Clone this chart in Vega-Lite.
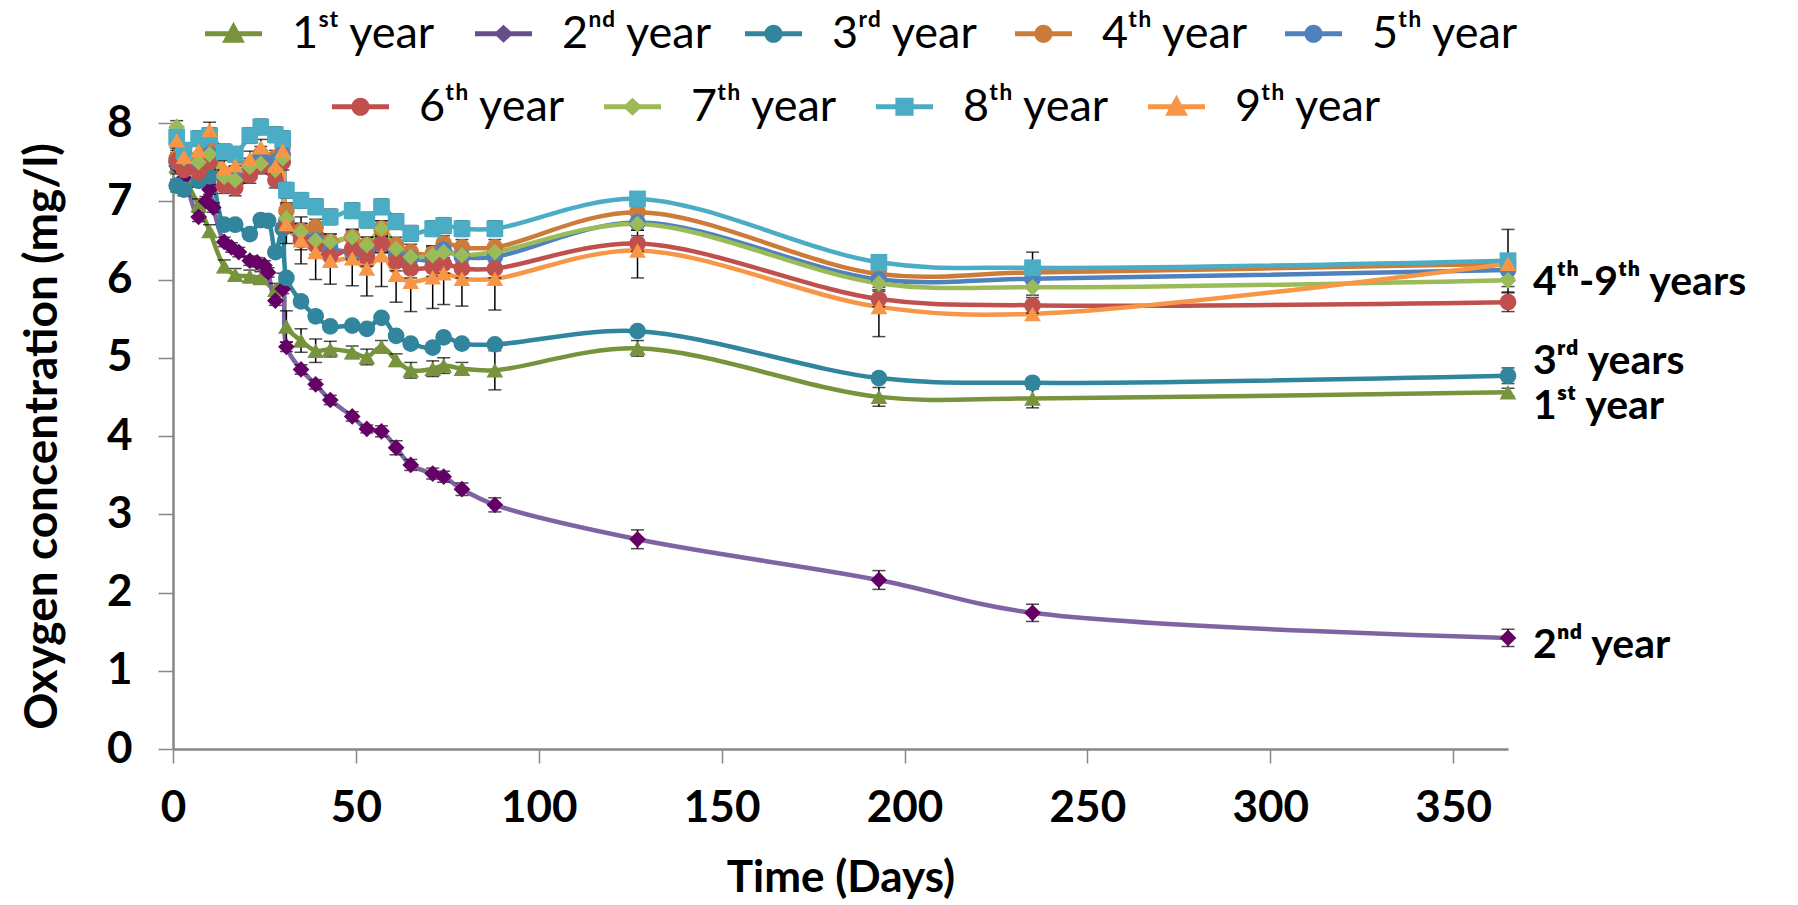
{
  "$schema": "https://vega.github.io/schema/vega-lite/v6.json",
  "width": 1335,
  "height": 626,
  "autosize": "none",
  "padding": {"left": 173, "top": 123, "right": 290, "bottom": 156},
  "background": "white",
  "config": {"view": {"stroke": null}, "font": "Lato, sans-serif"},
  "datasets": {
    "obs": [
      {"s":"1ˢᵗ year","d":1,"v":7.45,"e":0.1},{"s":"1ˢᵗ year","d":3,"v":7.3,"e":0.08},{"s":"1ˢᵗ year","d":7,"v":6.95,"e":0.08},{"s":"1ˢᵗ year","d":10,"v":6.62,"e":0.08},{"s":"1ˢᵗ year","d":14,"v":6.17,"e":0.08},{"s":"1ˢᵗ year","d":17,"v":6.06,"e":0.08},{"s":"1ˢᵗ year","d":21,"v":6.04,"e":0.08},{"s":"1ˢᵗ year","d":24,"v":6.02,"e":0.08},{"s":"1ˢᵗ year","d":28,"v":5.87,"e":0.08},{"s":"1ˢᵗ year","d":30,"v":5.98,"e":0.1},{"s":"1ˢᵗ year","d":31,"v":5.4,"e":0.2},{"s":"1ˢᵗ year","d":35,"v":5.22,"e":0.15},{"s":"1ˢᵗ year","d":39,"v":5.09,"e":0.15},{"s":"1ˢᵗ year","d":43,"v":5.11,"e":0.1},{"s":"1ˢᵗ year","d":49,"v":5.07,"e":0.08},{"s":"1ˢᵗ year","d":53,"v":5.01,"e":0.1},{"s":"1ˢᵗ year","d":57,"v":5.14,"e":0.08},{"s":"1ˢᵗ year","d":61,"v":4.97,"e":0.08},{"s":"1ˢᵗ year","d":65,"v":4.84,"e":0.1},{"s":"1ˢᵗ year","d":71,"v":4.86,"e":0.1},{"s":"1ˢᵗ year","d":74,"v":4.9,"e":0.1},{"s":"1ˢᵗ year","d":79,"v":4.86,"e":0.08},{"s":"1ˢᵗ year","d":88,"v":4.84,"e":0.25},{"s":"1ˢᵗ year","d":127,"v":5.12,"e":0.1},{"s":"1ˢᵗ year","d":193,"v":4.5,"e":0.12},{"s":"1ˢᵗ year","d":235,"v":4.48,"e":0.12},{"s":"1ˢᵗ year","d":365,"v":4.56,"e":0.05},

      {"s":"2ⁿᵈ year","d":1,"v":7.45,"e":0.08},{"s":"2ⁿᵈ year","d":3,"v":7.3,"e":0.08},{"s":"2ⁿᵈ year","d":7,"v":6.8,"e":0.06},{"s":"2ⁿᵈ year","d":9,"v":7.0,"e":0.06},{"s":"2ⁿᵈ year","d":10,"v":7.15,"e":0.06},{"s":"2ⁿᵈ year","d":11,"v":6.92,"e":0.06},{"s":"2ⁿᵈ year","d":14,"v":6.48,"e":0.06},{"s":"2ⁿᵈ year","d":16,"v":6.41,"e":0.06},{"s":"2ⁿᵈ year","d":18,"v":6.35,"e":0.06},{"s":"2ⁿᵈ year","d":21,"v":6.24,"e":0.06},{"s":"2ⁿᵈ year","d":23,"v":6.22,"e":0.06},{"s":"2ⁿᵈ year","d":25,"v":6.18,"e":0.06},{"s":"2ⁿᵈ year","d":26,"v":6.09,"e":0.06},{"s":"2ⁿᵈ year","d":28,"v":5.73,"e":0.06},{"s":"2ⁿᵈ year","d":30,"v":5.88,"e":0.06},{"s":"2ⁿᵈ year","d":31,"v":5.14,"e":0.06},{"s":"2ⁿᵈ year","d":35,"v":4.85,"e":0.06},{"s":"2ⁿᵈ year","d":39,"v":4.66,"e":0.06},{"s":"2ⁿᵈ year","d":43,"v":4.46,"e":0.06},{"s":"2ⁿᵈ year","d":49,"v":4.25,"e":0.06},{"s":"2ⁿᵈ year","d":53,"v":4.09,"e":0.05},{"s":"2ⁿᵈ year","d":57,"v":4.06,"e":0.07},{"s":"2ⁿᵈ year","d":61,"v":3.85,"e":0.09},{"s":"2ⁿᵈ year","d":65,"v":3.63,"e":0.07},{"s":"2ⁿᵈ year","d":71,"v":3.52,"e":0.07},{"s":"2ⁿᵈ year","d":74,"v":3.48,"e":0.07},{"s":"2ⁿᵈ year","d":79,"v":3.32,"e":0.08},{"s":"2ⁿᵈ year","d":88,"v":3.12,"e":0.09},{"s":"2ⁿᵈ year","d":127,"v":2.68,"e":0.12},{"s":"2ⁿᵈ year","d":193,"v":2.16,"e":0.12},{"s":"2ⁿᵈ year","d":235,"v":1.74,"e":0.11},{"s":"2ⁿᵈ year","d":365,"v":1.42,"e":0.11},

      {"s":"3ʳᵈ year","d":1,"v":7.2,"e":0.08},{"s":"3ʳᵈ year","d":3,"v":7.15,"e":0.08},{"s":"3ʳᵈ year","d":7,"v":7.26,"e":0.08},{"s":"3ʳᵈ year","d":10,"v":7.32,"e":0.08},{"s":"3ʳᵈ year","d":14,"v":6.7,"e":0.06},{"s":"3ʳᵈ year","d":17,"v":6.7,"e":0.06},{"s":"3ʳᵈ year","d":21,"v":6.58,"e":0.06},{"s":"3ʳᵈ year","d":24,"v":6.76,"e":0.06},{"s":"3ʳᵈ year","d":26,"v":6.75,"e":0.06},{"s":"3ʳᵈ year","d":28,"v":6.35,"e":0.06},{"s":"3ʳᵈ year","d":30,"v":6.65,"e":0.06},{"s":"3ʳᵈ year","d":31,"v":6.02,"e":0.06},{"s":"3ʳᵈ year","d":35,"v":5.72,"e":0.06},{"s":"3ʳᵈ year","d":39,"v":5.53,"e":0.05},{"s":"3ʳᵈ year","d":43,"v":5.4,"e":0.05},{"s":"3ʳᵈ year","d":49,"v":5.41,"e":0.05},{"s":"3ʳᵈ year","d":53,"v":5.37,"e":0.05},{"s":"3ʳᵈ year","d":57,"v":5.51,"e":0.05},{"s":"3ʳᵈ year","d":61,"v":5.28,"e":0.05},{"s":"3ʳᵈ year","d":65,"v":5.18,"e":0.05},{"s":"3ʳᵈ year","d":71,"v":5.13,"e":0.06},{"s":"3ʳᵈ year","d":74,"v":5.26,"e":0.05},{"s":"3ʳᵈ year","d":79,"v":5.18,"e":0.05},{"s":"3ʳᵈ year","d":88,"v":5.17,"e":0.05},{"s":"3ʳᵈ year","d":127,"v":5.34,"e":0.05},{"s":"3ʳᵈ year","d":193,"v":4.74,"e":0.05},{"s":"3ʳᵈ year","d":235,"v":4.68,"e":0.05},{"s":"3ʳᵈ year","d":365,"v":4.77,"e":0.1},

      {"s":"4ᵗʰ year","d":1,"v":7.55,"e":0.1},{"s":"4ᵗʰ year","d":3,"v":7.45,"e":0.1},{"s":"4ᵗʰ year","d":7,"v":7.5,"e":0.1},{"s":"4ᵗʰ year","d":10,"v":7.7,"e":0.1},{"s":"4ᵗʰ year","d":14,"v":7.3,"e":0.1},{"s":"4ᵗʰ year","d":17,"v":7.35,"e":0.1},{"s":"4ᵗʰ year","d":21,"v":7.45,"e":0.1},{"s":"4ᵗʰ year","d":24,"v":7.6,"e":0.1},{"s":"4ᵗʰ year","d":28,"v":7.55,"e":0.1},{"s":"4ᵗʰ year","d":30,"v":7.7,"e":0.1},{"s":"4ᵗʰ year","d":31,"v":6.88,"e":0.1},{"s":"4ᵗʰ year","d":35,"v":6.62,"e":0.1},{"s":"4ᵗʰ year","d":39,"v":6.67,"e":0.1},{"s":"4ᵗʰ year","d":43,"v":6.48,"e":0.1},{"s":"4ᵗʰ year","d":49,"v":6.54,"e":0.1},{"s":"4ᵗʰ year","d":53,"v":6.44,"e":0.1},{"s":"4ᵗʰ year","d":57,"v":6.65,"e":0.1},{"s":"4ᵗʰ year","d":61,"v":6.44,"e":0.1},{"s":"4ᵗʰ year","d":65,"v":6.35,"e":0.1},{"s":"4ᵗʰ year","d":71,"v":6.33,"e":0.1},{"s":"4ᵗʰ year","d":74,"v":6.46,"e":0.1},{"s":"4ᵗʰ year","d":79,"v":6.41,"e":0.1},{"s":"4ᵗʰ year","d":88,"v":6.41,"e":0.1},{"s":"4ᵗʰ year","d":127,"v":6.86,"e":0.1},{"s":"4ᵗʰ year","d":193,"v":6.07,"e":0.1},{"s":"4ᵗʰ year","d":235,"v":6.09,"e":0.1},{"s":"4ᵗʰ year","d":365,"v":6.2,"e":0.1},

      {"s":"5ᵗʰ year","d":1,"v":7.5,"e":0.1},{"s":"5ᵗʰ year","d":3,"v":7.4,"e":0.1},{"s":"5ᵗʰ year","d":7,"v":7.45,"e":0.1},{"s":"5ᵗʰ year","d":10,"v":7.6,"e":0.1},{"s":"5ᵗʰ year","d":14,"v":7.3,"e":0.1},{"s":"5ᵗʰ year","d":17,"v":7.3,"e":0.1},{"s":"5ᵗʰ year","d":21,"v":7.4,"e":0.1},{"s":"5ᵗʰ year","d":24,"v":7.55,"e":0.1},{"s":"5ᵗʰ year","d":28,"v":7.5,"e":0.1},{"s":"5ᵗʰ year","d":30,"v":7.6,"e":0.1},{"s":"5ᵗʰ year","d":31,"v":6.75,"e":0.1},{"s":"5ᵗʰ year","d":35,"v":6.55,"e":0.1},{"s":"5ᵗʰ year","d":39,"v":6.5,"e":0.1},{"s":"5ᵗʰ year","d":43,"v":6.39,"e":0.1},{"s":"5ᵗʰ year","d":49,"v":6.35,"e":0.1},{"s":"5ᵗʰ year","d":53,"v":6.32,"e":0.1},{"s":"5ᵗʰ year","d":57,"v":6.45,"e":0.1},{"s":"5ᵗʰ year","d":61,"v":6.3,"e":0.1},{"s":"5ᵗʰ year","d":65,"v":6.27,"e":0.1},{"s":"5ᵗʰ year","d":71,"v":6.25,"e":0.1},{"s":"5ᵗʰ year","d":74,"v":6.38,"e":0.1},{"s":"5ᵗʰ year","d":79,"v":6.29,"e":0.1},{"s":"5ᵗʰ year","d":88,"v":6.29,"e":0.1},{"s":"5ᵗʰ year","d":127,"v":6.73,"e":0.1},{"s":"5ᵗʰ year","d":193,"v":6.0,"e":0.1},{"s":"5ᵗʰ year","d":235,"v":6.01,"e":0.1},{"s":"5ᵗʰ year","d":365,"v":6.12,"e":0.1},

      {"s":"6ᵗʰ year","d":1,"v":7.52,"e":0.1},{"s":"6ᵗʰ year","d":3,"v":7.4,"e":0.1},{"s":"6ᵗʰ year","d":7,"v":7.37,"e":0.1},{"s":"6ᵗʰ year","d":10,"v":7.5,"e":0.1},{"s":"6ᵗʰ year","d":14,"v":7.2,"e":0.1},{"s":"6ᵗʰ year","d":17,"v":7.17,"e":0.1},{"s":"6ᵗʰ year","d":21,"v":7.33,"e":0.1},{"s":"6ᵗʰ year","d":24,"v":7.45,"e":0.1},{"s":"6ᵗʰ year","d":28,"v":7.27,"e":0.1},{"s":"6ᵗʰ year","d":30,"v":7.5,"e":0.1},{"s":"6ᵗʰ year","d":31,"v":6.7,"e":0.1},{"s":"6ᵗʰ year","d":35,"v":6.5,"e":0.12},{"s":"6ᵗʰ year","d":39,"v":6.44,"e":0.12},{"s":"6ᵗʰ year","d":43,"v":6.3,"e":0.12},{"s":"6ᵗʰ year","d":49,"v":6.39,"e":0.12},{"s":"6ᵗʰ year","d":53,"v":6.29,"e":0.12},{"s":"6ᵗʰ year","d":57,"v":6.46,"e":0.12},{"s":"6ᵗʰ year","d":61,"v":6.23,"e":0.12},{"s":"6ᵗʰ year","d":65,"v":6.14,"e":0.12},{"s":"6ᵗʰ year","d":71,"v":6.16,"e":0.12},{"s":"6ᵗʰ year","d":74,"v":6.2,"e":0.12},{"s":"6ᵗʰ year","d":79,"v":6.14,"e":0.12},{"s":"6ᵗʰ year","d":88,"v":6.14,"e":0.12},{"s":"6ᵗʰ year","d":127,"v":6.46,"e":0.1},{"s":"6ᵗʰ year","d":193,"v":5.75,"e":0.1},{"s":"6ᵗʰ year","d":235,"v":5.67,"e":0.1},{"s":"6ᵗʰ year","d":365,"v":5.71,"e":0.12},

      {"s":"7ᵗʰ year","d":1,"v":7.95,"e":0.08},{"s":"7ᵗʰ year","d":3,"v":7.55,"e":0.08},{"s":"7ᵗʰ year","d":7,"v":7.5,"e":0.08},{"s":"7ᵗʰ year","d":10,"v":7.6,"e":0.08},{"s":"7ᵗʰ year","d":14,"v":7.31,"e":0.08},{"s":"7ᵗʰ year","d":17,"v":7.27,"e":0.08},{"s":"7ᵗʰ year","d":21,"v":7.44,"e":0.08},{"s":"7ᵗʰ year","d":24,"v":7.48,"e":0.08},{"s":"7ᵗʰ year","d":28,"v":7.4,"e":0.08},{"s":"7ᵗʰ year","d":30,"v":7.55,"e":0.08},{"s":"7ᵗʰ year","d":31,"v":6.78,"e":0.1},{"s":"7ᵗʰ year","d":35,"v":6.61,"e":0.1},{"s":"7ᵗʰ year","d":39,"v":6.5,"e":0.1},{"s":"7ᵗʰ year","d":43,"v":6.48,"e":0.1},{"s":"7ᵗʰ year","d":49,"v":6.54,"e":0.1},{"s":"7ᵗʰ year","d":53,"v":6.44,"e":0.1},{"s":"7ᵗʰ year","d":57,"v":6.65,"e":0.1},{"s":"7ᵗʰ year","d":61,"v":6.39,"e":0.1},{"s":"7ᵗʰ year","d":65,"v":6.29,"e":0.1},{"s":"7ᵗʰ year","d":71,"v":6.31,"e":0.1},{"s":"7ᵗʰ year","d":74,"v":6.35,"e":0.1},{"s":"7ᵗʰ year","d":79,"v":6.31,"e":0.1},{"s":"7ᵗʰ year","d":88,"v":6.35,"e":0.1},{"s":"7ᵗʰ year","d":127,"v":6.71,"e":0.08},{"s":"7ᵗʰ year","d":193,"v":5.95,"e":0.08},{"s":"7ᵗʰ year","d":235,"v":5.9,"e":0.1},{"s":"7ᵗʰ year","d":365,"v":5.99,"e":0.08},

      {"s":"8ᵗʰ year","d":1,"v":7.82,"e":0.1},{"s":"8ᵗʰ year","d":3,"v":7.65,"e":0.1},{"s":"8ᵗʰ year","d":7,"v":7.8,"e":0.1},{"s":"8ᵗʰ year","d":10,"v":7.84,"e":0.1},{"s":"8ᵗʰ year","d":14,"v":7.63,"e":0.1},{"s":"8ᵗʰ year","d":17,"v":7.6,"e":0.1},{"s":"8ᵗʰ year","d":21,"v":7.84,"e":0.1},{"s":"8ᵗʰ year","d":24,"v":7.95,"e":0.1},{"s":"8ᵗʰ year","d":28,"v":7.85,"e":0.1},{"s":"8ᵗʰ year","d":30,"v":7.8,"e":0.1},{"s":"8ᵗʰ year","d":31,"v":7.14,"e":0.1},{"s":"8ᵗʰ year","d":35,"v":7.01,"e":0.1},{"s":"8ᵗʰ year","d":39,"v":6.93,"e":0.1},{"s":"8ᵗʰ year","d":43,"v":6.8,"e":0.1},{"s":"8ᵗʰ year","d":49,"v":6.88,"e":0.1},{"s":"8ᵗʰ year","d":53,"v":6.76,"e":0.1},{"s":"8ᵗʰ year","d":57,"v":6.93,"e":0.1},{"s":"8ᵗʰ year","d":61,"v":6.74,"e":0.1},{"s":"8ᵗʰ year","d":65,"v":6.59,"e":0.1},{"s":"8ᵗʰ year","d":71,"v":6.65,"e":0.1},{"s":"8ᵗʰ year","d":74,"v":6.69,"e":0.1},{"s":"8ᵗʰ year","d":79,"v":6.65,"e":0.1},{"s":"8ᵗʰ year","d":88,"v":6.65,"e":0.1},{"s":"8ᵗʰ year","d":127,"v":7.03,"e":0.08},{"s":"8ᵗʰ year","d":193,"v":6.22,"e":0.08},{"s":"8ᵗʰ year","d":235,"v":6.15,"e":0.2},{"s":"8ᵗʰ year","d":365,"v":6.24,"e":0.4},

      {"s":"9ᵗʰ year","d":1,"v":7.78,"e":0.1},{"s":"9ᵗʰ year","d":3,"v":7.57,"e":0.1},{"s":"9ᵗʰ year","d":7,"v":7.65,"e":0.1},{"s":"9ᵗʰ year","d":10,"v":7.91,"e":0.1},{"s":"9ᵗʰ year","d":14,"v":7.42,"e":0.1},{"s":"9ᵗʰ year","d":17,"v":7.46,"e":0.1},{"s":"9ᵗʰ year","d":21,"v":7.54,"e":0.1},{"s":"9ᵗʰ year","d":24,"v":7.69,"e":0.1},{"s":"9ᵗʰ year","d":28,"v":7.45,"e":0.1},{"s":"9ᵗʰ year","d":30,"v":7.65,"e":0.1},{"s":"9ᵗʰ year","d":31,"v":6.71,"e":0.25},{"s":"9ᵗʰ year","d":35,"v":6.5,"e":0.3},{"s":"9ᵗʰ year","d":39,"v":6.35,"e":0.35},{"s":"9ᵗʰ year","d":43,"v":6.24,"e":0.3},{"s":"9ᵗʰ year","d":49,"v":6.27,"e":0.35},{"s":"9ᵗʰ year","d":53,"v":6.14,"e":0.35},{"s":"9ᵗʰ year","d":57,"v":6.31,"e":0.4},{"s":"9ᵗʰ year","d":61,"v":6.06,"e":0.35},{"s":"9ᵗʰ year","d":65,"v":5.97,"e":0.38},{"s":"9ᵗʰ year","d":71,"v":6.03,"e":0.4},{"s":"9ᵗʰ year","d":74,"v":6.08,"e":0.4},{"s":"9ᵗʰ year","d":79,"v":6.01,"e":0.35},{"s":"9ᵗʰ year","d":88,"v":6.01,"e":0.4},{"s":"9ᵗʰ year","d":127,"v":6.37,"e":0.35},{"s":"9ᵗʰ year","d":193,"v":5.65,"e":0.38},{"s":"9ᵗʰ year","d":235,"v":5.56,"e":0.08},{"s":"9ᵗʰ year","d":365,"v":6.2,"e":0.08}
    ],
    "notes": [
      {"t":"4ᵗʰ-9ᵗʰ years","d":365,"v":5.95},
      {"t":"3ʳᵈ years","d":365,"v":4.94},
      {"t":"1ˢᵗ year","d":365,"v":4.37},
      {"t":"2ⁿᵈ year","d":365,"v":1.31}
    ]
  },
  "encoding": {
    "x": {"field":"d","type":"quantitative","title":"Time (Days)",
      "scale":{"domain":[0,365],"nice":false,"zero":false},
      "axis":{"values":[0,50,100,150,200,250,300,350],"grid":false,"domainColor":"#868686","domainWidth":2.5,"tickColor":"#868686","tickWidth":1.5,"tickSize":14,"labelFontSize":44,"labelFontWeight":"bold","labelColor":"black","labelPadding":23,"labelFlush":false,"titleFontSize":44,"titleFontWeight":"bold","titleColor":"black","titlePadding":26}},
    "y": {"field":"v","type":"quantitative","title":"Oxygen concentration (mg/l)",
      "scale":{"domain":[0,8],"nice":false},
      "axis":{"values":[0,1,2,3,4,5,6,7,8],"grid":false,"domainColor":"#868686","domainWidth":2.5,"tickColor":"#868686","tickWidth":1.5,"tickSize":15,"labelFontSize":44,"labelFontWeight":"bold","labelColor":"black","labelPadding":26,"labelFlush":false,"titleFontSize":46,"titleFontWeight":"bold","titleColor":"black","titlePadding":40}}
  },
  "layer": [
    {
      "data": {"name": "obs"},
      "mark": {"type":"line","interpolate":"catmull-rom","strokeWidth":4.5},
      "encoding": {
        "color": {"field":"s","type":"nominal","legend":null,
          "scale":{"domain":["1ˢᵗ year","2ⁿᵈ year","3ʳᵈ year","4ᵗʰ year","5ᵗʰ year","6ᵗʰ year","7ᵗʰ year","8ᵗʰ year","9ᵗʰ year"],
                   "range":["#77933C","#8064A2","#31859C","#CD7B38","#4F81BD","#C0504D","#9BBB59","#4BACC6","#F79646"]}}
      }
    },
    {
      "data": {"name": "obs"},
      "mark": {"type":"errorbar","ticks":{"color":"black","size":13,"thickness":1.5},"rule":{"color":"black","strokeWidth":1.5}},
      "encoding": {"yError": {"field":"e"}}
    },
    {
      "data": {"name": "obs"},
      "mark": {"type":"point","filled":true,"opacity":1,"size":280,"strokeWidth":0},
      "encoding": {
        "color": {"field":"s","type":"nominal","legend":null,
          "scale":{"domain":["1ˢᵗ year","2ⁿᵈ year","3ʳᵈ year","4ᵗʰ year","5ᵗʰ year","6ᵗʰ year","7ᵗʰ year","8ᵗʰ year","9ᵗʰ year"],
                   "range":["#77933C","#660066","#31859C","#CD7B38","#4F81BD","#C0504D","#9BBB59","#4BACC6","#F79646"]}},
        "shape": {"field":"s","type":"nominal","legend":null,
          "scale":{"domain":["1ˢᵗ year","2ⁿᵈ year","3ʳᵈ year","4ᵗʰ year","5ᵗʰ year","6ᵗʰ year","7ᵗʰ year","8ᵗʰ year","9ᵗʰ year"],
                   "range":["triangle-up","diamond","circle","circle","circle","circle","diamond","square","triangle-up"]}}
      }
    },
    {
      "data": {"name": "notes"},
      "mark": {"type":"text","align":"left","baseline":"middle","dx":25,"fontSize":41,"fontWeight":"bold","color":"black"},
      "encoding": {"text": {"field":"t","type":"nominal"}}
    },
    {
      "data": {"values": []},
      "mark": {"type":"point","filled":true,"opacity":1,"strokeWidth":0},
      "encoding": {
        "x": null, "y": null,
        "color": {"field":"s","type":"nominal",
          "scale":{"domain":["1ˢᵗ year","2ⁿᵈ year","3ʳᵈ year","4ᵗʰ year","5ᵗʰ year"],
                   "range":["#77933C","#664D8C","#31859C","#CD7B38","#4F81BD"]},
          "legend":{"orient":"none","legendX":32,"legendY":-118,"direction":"horizontal","title":null,"labelFontSize":45,"labelColor":"black","symbolSize":3249,"symbolStrokeWidth":0,"labelOffset":30,"columnPadding":32,"gridAlign":"all","padding":0,"labelLimit":0}},
        "shape": {"field":"s","type":"nominal",
          "scale":{"domain":["1ˢᵗ year","2ⁿᵈ year","3ʳᵈ year","4ᵗʰ year","5ᵗʰ year"],
                   "range":[
                     "M-1,-0.09L1,-0.09L1,0.09L-1,0.09Z M0,-0.42L0.4,0.32L-0.4,0.32Z",
                     "M-1,-0.09L1,-0.09L1,0.09L-1,0.09Z M0,-0.32L0.34,0L0,0.32L-0.34,0Z",
                     "M-1,-0.09L1,-0.09L1,0.09L-1,0.09Z M0.32,0A0.32,0.32 0 1,1 -0.32,0A0.32,0.32 0 1,1 0.32,0Z",
                     "M-1,-0.09L1,-0.09L1,0.09L-1,0.09Z M0.32,0A0.32,0.32 0 1,1 -0.32,0A0.32,0.32 0 1,1 0.32,0Z",
                     "M-1,-0.09L1,-0.09L1,0.09L-1,0.09Z M0.32,0A0.32,0.32 0 1,1 -0.32,0A0.32,0.32 0 1,1 0.32,0Z"]},
          "legend":{"orient":"none","legendX":32,"legendY":-118,"direction":"horizontal","title":null,"labelFontSize":45,"labelColor":"black","symbolSize":3249,"symbolStrokeWidth":0,"labelOffset":30,"columnPadding":32,"gridAlign":"all","padding":0,"labelLimit":0}}
      }
    },
    {
      "data": {"values": []},
      "mark": {"type":"point","filled":true,"opacity":1,"strokeWidth":0},
      "encoding": {
        "x": null, "y": null,
        "color": {"field":"s","type":"nominal",
          "scale":{"domain":["6ᵗʰ year","7ᵗʰ year","8ᵗʰ year","9ᵗʰ year"],
                   "range":["#C0504D","#9BBB59","#4BACC6","#F79646"]},
          "legend":{"orient":"none","legendX":159,"legendY":-45,"direction":"horizontal","title":null,"labelFontSize":45,"labelColor":"black","symbolSize":3249,"symbolStrokeWidth":0,"labelOffset":30,"columnPadding":38,"gridAlign":"all","padding":0,"labelLimit":0}},
        "shape": {"field":"s","type":"nominal",
          "scale":{"domain":["6ᵗʰ year","7ᵗʰ year","8ᵗʰ year","9ᵗʰ year"],
                   "range":[
                     "M-1,-0.09L1,-0.09L1,0.09L-1,0.09Z M0.32,0A0.32,0.32 0 1,1 -0.32,0A0.32,0.32 0 1,1 0.32,0Z",
                     "M-1,-0.09L1,-0.09L1,0.09L-1,0.09Z M0,-0.32L0.34,0L0,0.32L-0.34,0Z",
                     "M-1,-0.09L1,-0.09L1,0.09L-1,0.09Z M-0.32,-0.32L0.32,-0.32L0.32,0.32L-0.32,0.32Z",
                     "M-1,-0.09L1,-0.09L1,0.09L-1,0.09Z M0,-0.42L0.4,0.32L-0.4,0.32Z"]},
          "legend":{"orient":"none","legendX":159,"legendY":-45,"direction":"horizontal","title":null,"labelFontSize":45,"labelColor":"black","symbolSize":3249,"symbolStrokeWidth":0,"labelOffset":30,"columnPadding":38,"gridAlign":"all","padding":0,"labelLimit":0}}
      }
    }
  ],
  "resolve": {"scale": {"color": "independent", "shape": "independent"}}
}
